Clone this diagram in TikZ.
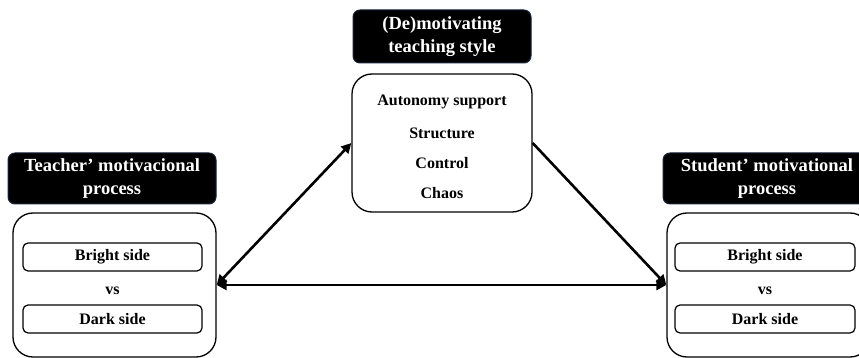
\documentclass[tikz,border=0pt]{standalone}
\usepackage{fontspec}
\setmainfont{Liberation Serif}
\usetikzlibrary{arrows.meta}
\definecolor{labelrim}{RGB}{25,35,60}
\begin{document}
\begin{tikzpicture}[x=1pt,y=-1pt,
    head node/.style={rounded corners=7pt,fill=black,draw=labelrim,line width=1pt,text=white,align=center,inner sep=0pt,font=\bfseries\fontsize{18.5}{22.5}\selectfont},
    panel/.style={draw,rounded corners=20pt,line width=1.3pt,inner sep=0pt},
    side/.style={draw,rounded corners=5pt,line width=1.2pt,minimum width=179pt,minimum height=28pt,inner sep=0pt,font=\bfseries\fontsize{16}{19}\selectfont},
    plain text/.style={font=\bfseries\fontsize{16}{19}\selectfont},
    link/.style={line width=2.6pt,{Triangle[length=10pt,width=10pt]}-{Triangle[length=10pt,width=10pt]}}]
    \useasboundingbox (0,0) rectangle (859,358);
    \clip (0,0) rectangle (859,358);

    \node[head node,minimum width=178pt,minimum height=53pt] at (442,36.5) (stylehead) {(De)motivating\\teaching style};
    \node[panel,minimum width=180pt,minimum height=138pt] at (442,143) (midbox) {};
    \node[plain text] at (442,102) (autonomy) {Autonomy support};
    \node[plain text] at (442,133) (structure) {Structure};
    \node[plain text] at (442,163) (control) {Control};
    \node[plain text] at (442,193) (chaos) {Chaos};

    \node[head node,minimum width=208pt,minimum height=51pt] at (112,178.5) (teacherhead) {Teacher’ motivacional\\process};
    \node[panel,minimum width=203pt,minimum height=144pt] at (114.5,285) (leftbox) {};
    \node[side] at (112.5,257) (tbright) {Bright side};
    \node[plain text] at (112.5,291) (tvs) {vs};
    \node[side] at (112.5,319) (tdark) {Dark side};

    \node[head node,minimum width=208pt,minimum height=51pt] at (767,178.5) (studenthead) {Student’ motivational\\process};
    \node[panel,minimum width=203pt,minimum height=144pt] at (768.5,285) (rightbox) {};
    \node[side,minimum width=180pt] at (765,257) (sbright) {Bright side};
    \node[plain text] at (765,291) (svs) {vs};
    \node[side,minimum width=180pt] at (765,319) (sdark) {Dark side};

    \draw[link] (leftbox.east) -- (midbox.west);
    \draw[link] (leftbox.east) -- (rightbox.west);
    \draw[link,-{Triangle[length=10pt,width=10pt]}] (midbox.east) -- (rightbox.west);
\end{tikzpicture}
\end{document}
